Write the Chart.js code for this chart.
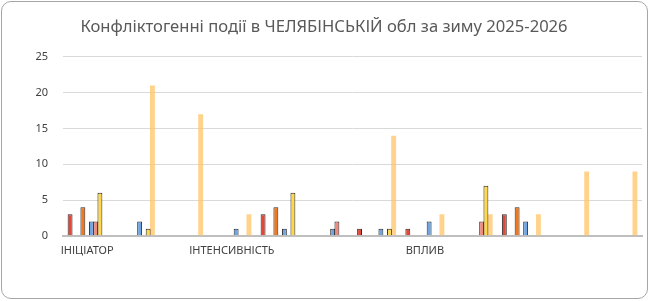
<!DOCTYPE html>
<html>
<head>
<meta charset="utf-8">
<script src="https://cdn.jsdelivr.net/npm/chart.js@4"></script>
<style>
  html, body { margin: 0; padding: 0; background: #fff; }
  #wrap { position: relative; width: 649px; height: 301px; }
  #frame { position: absolute; left: 1px; top: 1px; width: 645px; height: 296px;
           border: 1px solid #a6a6a6; border-radius: 10px; pointer-events: none; }
</style>
</head>
<body>
<div id="wrap">
  <canvas id="chart" width="649" height="301"></canvas>
  <div id="frame"></div>
</div>
<script>
const title = "Конфліктогенні події в ЧЕЛЯБІНСЬКІЙ обл за зиму 2025-2026";

// 12 groups, only some carry a caption
const categories = ["ІНІЦІАТОР", "", "", "ІНТЕНСИВНІСТЬ", "", "", "", "ВПЛИВ", "", "", "", ""];

const yTicks = [0, 5, 10, 15, 20, 25];

// series in their slot order inside each group
const seriesRed    = [3, 0, 0, 0, 3, 0, 1, 1, 0, 3, 0, 0];
const seriesEmpty1 = [0, 0, 0, 0, 0, 0, 0, 0, 0, 0, 0, 0];
const seriesEmpty2 = [0, 0, 0, 0, 0, 0, 0, 0, 0, 0, 0, 0];
const seriesOrange = [4, 0, 0, 0, 4, 0, 0, 0, 0, 4, 0, 0];
const seriesEmpty3 = [0, 0, 0, 0, 0, 0, 0, 0, 0, 0, 0, 0];
const seriesBlue   = [2, 2, 0, 1, 1, 1, 1, 2, 0, 2, 0, 0];
const seriesPink   = [2, 0, 0, 0, 0, 2, 0, 0, 2, 0, 0, 0];
const seriesYellow = [6, 1, 0, 0, 6, 0, 1, 0, 7, 0, 0, 0];
const seriesTotal  = [0, 21, 17, 3, 0, 0, 14, 3, 3, 3, 9, 9];

const FONT = "'Noto Sans', 'DejaVu Sans', sans-serif";

function barSet(label, data, color, border) {
  return {
    label,
    data,
    backgroundColor: color,
    borderColor: border || "#2b2b2b",
    borderWidth: border === "none" ? 0 : 1,
    barPercentage: 1.15,
    categoryPercentage: 0.795
  };
}

new Chart(document.getElementById("chart").getContext("2d"), {
  type: "bar",
  data: {
    labels: categories,
    datasets: [
      barSet("Серія 1", seriesRed, "#e0483a"),
      barSet("Серія 2", seriesEmpty1, "#a5a5a5"),
      barSet("Серія 3", seriesEmpty2, "#a5a5a5"),
      barSet("Серія 4", seriesOrange, "#f0781e"),
      barSet("Серія 5", seriesEmpty3, "#a5a5a5"),
      barSet("Серія 6", seriesBlue, "#6fa6e2"),
      barSet("Серія 7", seriesPink, "#ef8a80"),
      barSet("Серія 8", seriesYellow, "#ffd84a"),
      barSet("Всього", seriesTotal, "rgba(255, 196, 100, 0.75)", "none")
    ]
  },
  options: {
    responsive: false,
    animation: false,
    layout: { padding: { left: 6, right: 7, top: 0, bottom: 36 } },
    plugins: {
      legend: { display: false },
      tooltip: { enabled: false },
      title: {
        display: true,
        text: title,
        color: "#595959",
        font: { family: FONT, size: 16.6, weight: "normal" },
        padding: { top: 17, bottom: 20 }
      }
    },
    scales: {
      x: {
        offset: true,
        grid: { display: false, drawTicks: false },
        border: { color: "#bfbfbf", width: 2 },
        ticks: { color: "#404040", font: { family: FONT, size: 11 }, padding: 8, maxRotation: 0, autoSkip: false }
      },
      y: {
        min: 0,
        max: 25,
        afterBuildTicks: axis => { axis.ticks = yTicks.map(v => ({ value: v })); },
        afterFit: axis => { axis.width = 57; },
        grid: { color: "#d9d9d9", drawTicks: false },
        border: { display: false },
        ticks: { color: "#404040", font: { family: FONT, size: 11 }, padding: 15 }
      }
    }
  }
});
</script>
</body>
</html>
